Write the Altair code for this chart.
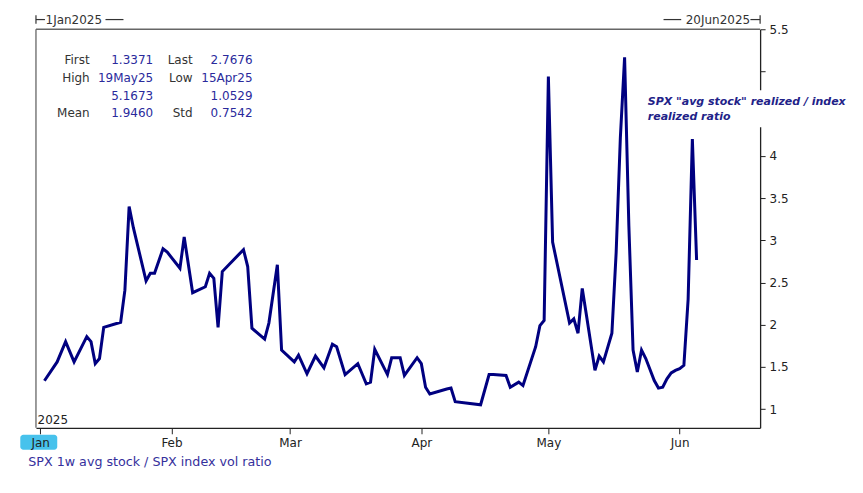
import altair as alt
import pandas as pd

FONT = "DejaVu Sans"

DATES = [
    "2025-01-02", "2025-01-05", "2025-01-07", "2025-01-09", "2025-01-12", "2025-01-13",
    "2025-01-14", "2025-01-15", "2025-01-16", "2025-01-20", "2025-01-21", "2025-01-22",
    "2025-01-23", "2025-01-26", "2025-01-27", "2025-01-28", "2025-01-30", "2025-01-31",
    "2025-02-03", "2025-02-04", "2025-02-06", "2025-02-09", "2025-02-10", "2025-02-11",
    "2025-02-12", "2025-02-13", "2025-02-18", "2025-02-19", "2025-02-20", "2025-02-23",
    "2025-02-24", "2025-02-26", "2025-02-27", "2025-03-02", "2025-03-03", "2025-03-05",
    "2025-03-07", "2025-03-09", "2025-03-11", "2025-03-12", "2025-03-14", "2025-03-17",
    "2025-03-18", "2025-03-19", "2025-03-20", "2025-03-21", "2025-03-24", "2025-03-25",
    "2025-03-27", "2025-03-28", "2025-03-31", "2025-04-01", "2025-04-02", "2025-04-03",
    "2025-04-07", "2025-04-08", "2025-04-09", "2025-04-12", "2025-04-15", "2025-04-17",
    "2025-04-18", "2025-04-21", "2025-04-22", "2025-04-24", "2025-04-25", "2025-04-28",
    "2025-04-29", "2025-04-30", "2025-05-01", "2025-05-02", "2025-05-06", "2025-05-07",
    "2025-05-08", "2025-05-09", "2025-05-10", "2025-05-12", "2025-05-13", "2025-05-14",
    "2025-05-16", "2025-05-17", "2025-05-18", "2025-05-19", "2025-05-20", "2025-05-21",
    "2025-05-22", "2025-05-23", "2025-05-24", "2025-05-25", "2025-05-26", "2025-05-27",
    "2025-05-28", "2025-05-29", "2025-05-30", "2025-05-31", "2025-06-01", "2025-06-02",
    "2025-06-03", "2025-06-04", "2025-06-05",
]
VALUES = [
    1.3371, 1.56, 1.80, 1.56, 1.86, 1.80,
    1.54, 1.60, 1.97, 2.03, 2.41, 3.40,
    3.15, 2.52, 2.61, 2.61, 2.90, 2.86,
    2.67, 3.04, 2.38, 2.45, 2.61, 2.55,
    1.97, 2.63, 2.89, 2.69, 1.96, 1.83,
    2.02, 2.71, 1.70, 1.56, 1.64, 1.42,
    1.63, 1.49, 1.77, 1.74, 1.41, 1.54,
    1.42, 1.30, 1.32, 1.71, 1.41, 1.61,
    1.61, 1.40, 1.61, 1.54, 1.26, 1.18,
    1.24, 1.25, 1.09, 1.07, 1.0529, 1.41,
    1.41, 1.40, 1.26, 1.32, 1.28, 1.74,
    1.99, 2.05, 4.94, 2.98, 2.02, 2.07,
    1.90, 2.43, 2.11, 1.46, 1.63, 1.56,
    1.90, 2.85, 4.22, 5.1673, 3.18, 1.70,
    1.44, 1.70, 1.60, 1.47, 1.34, 1.25,
    1.26, 1.36, 1.43, 1.46, 1.48, 1.52,
    2.30, 4.20, 2.7676,
]

Y_TICKS = [1, 1.5, 2, 2.5, 3, 3.5, 4, 4.5, 5, 5.5]
MONTH_STARTS = [1, 2, 3, 4, 5, 6]

STAT_COL1 = ["First", "High", "", "Mean"]
STAT_COL2 = ["1.3371", "19May25", "5.1673", "1.9460"]
STAT_COL3 = ["Last", "Low", "", "Std"]
STAT_COL4 = ["2.7676", "15Apr25", "1.0529", "0.7542"]

TITLE = ["SPX 1w avg stock / SPX index vol ratio"]
ANNOT = ['SPX "avg stock" realized / index', "realized ratio"]
START_LABEL = ["1Jan2025"]
END_LABEL = ["20Jun2025"]
YEAR_LABEL = ["2025"]

W, H = 725, 399

df = pd.DataFrame({"date": DATES, "value": VALUES})

x_enc = alt.X(
    "date:T",
    scale=alt.Scale(
        type="utc",
        domain=[
            alt.DateTime(year=2024, month=12, date=31, utc=True),
            alt.DateTime(year=2025, month=6, date=20, utc=True),
        ],
    ),
    axis=alt.Axis(
        values=[alt.DateTime(year=2025, month=m, date=1, utc=True) for m in MONTH_STARTS],
        labelExpr="utcFormat(datum.value, '%b')",
        title=None,
        grid=False,
        tickSize=6,
        tickColor="#222222",
        domainColor="#222222",
        domainWidth=1.3,
        labelPadding=4,
        labelFont=FONT,
        labelFontSize=12,
        labelColor="#222222",
        labelFlush=False,
        labelOverlap=False,
        zindex=1,
    ),
)

y_enc = alt.Y(
    "value:Q",
    scale=alt.Scale(domain=[0.78, 5.5], nice=False, zero=False),
    axis=alt.Axis(
        orient="right",
        values=Y_TICKS,
        labelExpr="datum.value == 4.5 || datum.value == 5 ? '' : '' + datum.value",
        title=None,
        grid=False,
        tickSize=5,
        tickColor="#222222",
        domainColor="#222222",
        domainWidth=1.3,
        labelPadding=4,
        labelFont=FONT,
        labelFontSize=12,
        labelColor="#222222",
        zindex=0,
    ),
)

line = alt.Chart(df).mark_line(color="#000080", strokeWidth=3).encode(x=x_enc, y=y_enc)


def one(texts):
    return alt.Chart(pd.DataFrame({"t": texts}))


# frame edges (left and top)
frame_top = one([""]).mark_rule(color="#666666", strokeWidth=1.3).encode(
    x=alt.value(0), x2=alt.value(W), y=alt.value(0)
)
frame_left = one([""]).mark_rule(color="#666666", strokeWidth=1.3).encode(
    x=alt.value(0), y=alt.value(0), y2=alt.value(H)
)

# white box behind annotation
annot_box = one([""]).mark_rect(color="white").encode(
    x=alt.value(609), x2=alt.value(732), y=alt.value(61), y2=alt.value(98)
)
annot1 = one([ANNOT[0]]).mark_text(
    align="left", baseline="alphabetic", font=FONT, fontSize=11,
    fontWeight="bold", fontStyle="italic", color="#222288"
).encode(text="t:N", x=alt.value(612.6), y=alt.value(76))
annot2 = one([ANNOT[1]]).mark_text(
    align="left", baseline="alphabetic", font=FONT, fontSize=11,
    fontWeight="bold", fontStyle="italic", color="#222288"
).encode(text="t:N", x=alt.value(612.6), y=alt.value(90.5))


# stats box: one text mark per non-empty cell
def stat_col(lines, xr, color):
    layers = []
    for i, s in enumerate(lines):
        if not s:
            continue
        layers.append(
            one([s]).mark_text(
                align="right", baseline="alphabetic", font=FONT, fontSize=12, color=color
            ).encode(text="t:N", x=alt.value(xr), y=alt.value(35 + i * 17.7))
        )
    return layers


stats = (
    stat_col(STAT_COL1, 53.8, "#333333")
    + stat_col(STAT_COL2, 117.3, "#2a2a9c")
    + stat_col(STAT_COL3, 156.8, "#333333")
    + stat_col(STAT_COL4, 216.8, "#2a2a9c")
)

year_txt = one(YEAR_LABEL).mark_text(
    align="left", baseline="alphabetic", font=FONT, fontSize=12, color="#222222"
).encode(text="t:N", x=alt.value(1.6), y=alt.value(395.3))

title_txt = one(TITLE).mark_text(
    align="left", baseline="alphabetic", font=FONT, fontSize=12.7, color="#35309c"
).encode(text="t:N", x=alt.value(-7.7), y=alt.value(437.7))

# highlight behind "Jan"
jan_box = one([""]).mark_rect(color="#47c2ec", cornerRadius=3).encode(
    x=alt.value(-15.7), x2=alt.value(21.3), y=alt.value(406), y2=alt.value(421)
)

# top date brackets
dark = "#333333"
start_txt = one(START_LABEL).mark_text(
    align="left", baseline="alphabetic", font=FONT, fontSize=12, color=dark
).encode(text="t:N", x=alt.value(9.6), y=alt.value(-5))
end_txt = one(END_LABEL).mark_text(
    align="right", baseline="alphabetic", font=FONT, fontSize=12, color=dark
).encode(text="t:N", x=alt.value(715), y=alt.value(-5))


def hrule(x1, x2, y):
    return one([""]).mark_rule(color=dark, strokeWidth=1.2).encode(
        x=alt.value(x1), x2=alt.value(x2), y=alt.value(y)
    )


def vrule(x, y1, y2):
    return one([""]).mark_rule(color=dark, strokeWidth=1.2).encode(
        x=alt.value(x), y=alt.value(y1), y2=alt.value(y2)
    )


brackets = [
    vrule(0, -14, -5.5), hrule(0, 9, -9.7), hrule(69.6, 87.6, -9.7),
    hrule(628.3, 646, -9.7), hrule(715.3, W, -9.7), vrule(W, -14, -5.5),
]

chart = alt.layer(
    jan_box, frame_top, frame_left, line, annot_box, annot1, annot2,
    *stats, year_txt, title_txt, start_txt, end_txt, *brackets,
).properties(
    width=W,
    height=H,
    autosize=alt.AutoSizeParams(type="none"),
    padding={"left": 28, "top": 21, "right": 95, "bottom": 56},
    background="white",
).configure_view(strokeWidth=0)

chart.save("out.html", embed_options={"renderer": "svg", "actions": False})
